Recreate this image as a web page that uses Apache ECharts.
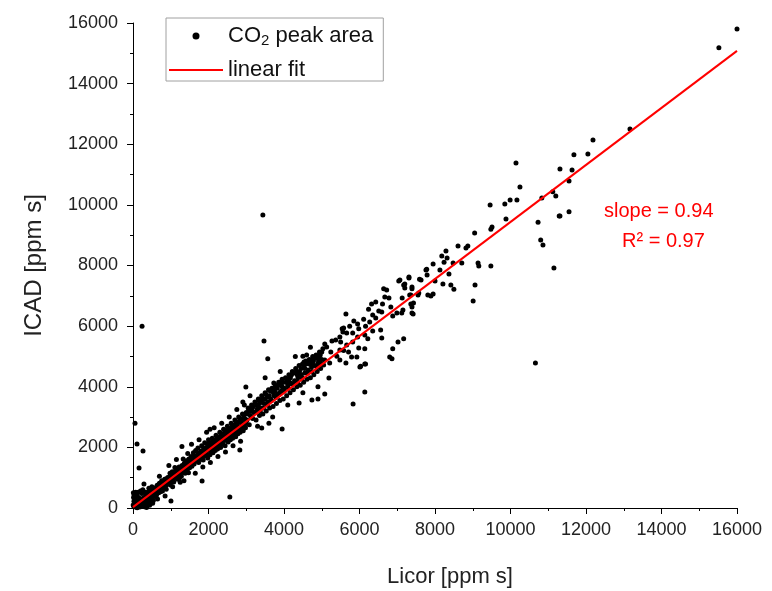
<!DOCTYPE html>
<html>
<head>
<meta charset="utf-8">
<script src="https://cdn.jsdelivr.net/npm/echarts@6/dist/echarts.min.js"></script>
<style>
html,body{margin:0;padding:0;background:#fff;}
#chart{width:772px;height:591px;}
</style>
</head>
<body>
<div id="chart"></div>
<script>
// ---- data (Licor [ppm s], ICAD [ppm s]) ----
const xTicks = [0, 2000, 4000, 6000, 8000, 10000, 12000, 14000, 16000];
const yTicks = [0, 2000, 4000, 6000, 8000, 10000, 12000, 14000, 16000];

const nearOrigin = [[20,60],[40,150],[60,30],[80,250],[100,120],[120,380],[30,420],[150,60],[170,220],[190,310],[210,90],[230,480],[250,200],[270,150],[290,350],[310,260],[330,120],[350,430],[370,300],[390,520],[410,210],[430,380],[450,290],[470,560],[490,400],[510,330],[530,620],[550,450],[570,510],[590,380],[50,300],[90,450],[140,520],[180,30],[220,280],[260,600],[300,40],[340,180],[380,100],[420,650],[460,150],[500,700],[540,250],[580,620],[10,500],[15,350],[25,220],[5,100],[200,560],[320,520],[110,10],[360,20],[440,90],[520,160],[70,520]];

const bandLow = [[600,560],[620,420],[640,750],[660,680],[680,500],[700,820],[720,610],[740,700],[760,900],[780,560],[800,780],[820,690],[840,950],[860,720],[880,620],[900,880],[920,1010],[940,800],[960,940],[980,1150],[1000,870],[1020,980],[1040,1200],[1060,1050],[1080,860],[1100,1120],[1120,990],[1140,1280],[1160,1060],[1180,950],[1200,1190],[1220,1350],[1240,1100],[1260,1230],[1280,1050],[1300,1400],[1320,1200],[1340,1300],[1360,1480],[1380,1150],[1400,1310],[1420,1560],[1440,1270],[1460,1390],[1480,1620],[1500,1330],[650,300],[850,400],[1050,700],[1250,850],[700,1050],[950,1400],[1150,1600],[1350,900],[1450,1800],[610,680],[730,540],[870,960],[990,760],[1110,1340],[1230,980],[1330,1620],[1470,1160]];

const bandLowExtra = [[520,480],[560,640],[610,530],[670,610],[690,720],[750,640],[790,880],[830,820],[890,790],[930,900],[970,1020],[1010,1080],[1030,900],[1070,1150],[1090,1000],[1130,1100],[1170,1230],[1190,1100],[1210,1250],[1270,1320],[1290,1180],[1310,1300],[1370,1390],[1390,1280],[1410,1430],[1430,1360],[1490,1480]];

const bandMid = [[1520,1500],[1540,1700],[1560,1380],[1580,1560],[1600,1820],[1620,1450],[1640,1600],[1660,1900],[1680,1550],[1700,1700],[1720,1980],[1740,1500],[1760,1680],[1780,1850],[1800,1620],[1820,2050],[1840,1760],[1860,1580],[1880,1900],[1900,2150],[1920,1720],[1940,1850],[1960,2000],[1980,1650],[2000,2250],[2020,1900],[2040,1760],[2060,2080],[2080,1950],[2100,2300],[2120,1820],[2140,2020],[2160,2180],[2180,1900],[2200,2400],[2220,2080],[2240,1950],[2260,2250],[2280,2120],[2300,2500],[2320,2000],[2340,2200],[2360,2380],[2380,2100],[2400,2600],[2420,2250],[2440,2050],[2460,2420],[2480,2300],[2500,2700],[2520,2180],[2540,2400],[2560,2560],[2580,2250],[2600,2800],[2620,2450],[2640,2300],[2660,2620],[2680,2480],[2700,2900],[2720,2350],[2740,2580],[2760,2750],[2780,2450],[2800,3000],[2820,2650],[2840,2500],[2860,2820],[2880,2700],[2900,3100],[2920,2550],[2940,2760],[2960,2950],[2980,2650],[3000,3150],[1550,2100],[1650,1150],[1750,2250],[1850,1350],[1950,2500],[2050,1500],[2150,2650],[2250,1700],[2350,2800],[2450,1850],[2550,3000],[2650,2050],[2750,3250],[2850,2200],[2950,3400],[1510,1380],[1590,1520],[1690,1640],[1790,1720],[1890,1760],[1990,1930],[2090,1990],[2190,2120],[2290,2170],[2390,2280],[2490,2410],[2590,2470],[2690,2560],[2790,2640],[2890,2780],[2990,2830]];

const bandMidExtra = [[1530,1600],[1570,1640],[1610,1540],[1630,1720],[1670,1700],[1710,1580],[1730,1800],[1770,1760],[1810,1880],[1830,1680],[1870,1990],[1910,1880],[1930,1780],[1970,2100],[2010,2000],[2030,2150],[2070,1880],[2110,2180],[2130,2250],[2170,2050],[2210,2230],[2230,2330],[2270,2030],[2310,2350],[2330,2450],[2370,2180],[2410,2430],[2430,2550],[2470,2230],[2510,2520],[2530,2620],[2570,2380],[2610,2630],[2630,2740],[2670,2400],[2710,2700],[2730,2820],[2770,2580],[2810,2850],[2830,2950],[2870,2620],[2910,2920],[2930,3050],[2970,2780]];

const bandHigh = [[3020,2900],[3050,3300],[3080,2750],[3110,3050],[3140,3400],[3170,2950],[3200,3150],[3230,3500],[3260,2900],[3290,3250],[3320,3600],[3350,3050],[3380,3300],[3410,3700],[3440,3100],[3470,3450],[3500,3800],[3530,3200],[3560,3400],[3590,3900],[3620,3300],[3650,3600],[3680,3950],[3710,3350],[3740,3700],[3770,4050],[3800,3450],[3830,3750],[3860,4150],[3890,3550],[3920,3850],[3950,4250],[3980,3600],[4010,3950],[4040,4300],[4070,3700],[4100,4050],[4130,4400],[4160,3800],[4190,4100],[4220,4500],[4250,3900],[4280,4200],[4310,4600],[4340,4000],[4370,4300],[4400,4700],[4430,4050],[4460,4400],[4490,4750],[4520,4150],[4550,4450],[4580,4850],[4610,4250],[4640,4550],[4670,4900],[4700,4300],[4730,4650],[4760,5000],[4790,4400],[4820,4700],[4850,5050],[4880,4500],[4910,4800],[4940,5150],[4970,4600],[5000,4900],[3100,3700],[3300,2700],[3500,4300],[3700,3000],[3900,4500],[4100,3400],[4300,5000],[4500,3800],[4700,5300],[4900,4000],[3150,3200],[3350,3450],[3550,3650],[3750,3850],[3950,4000],[4150,4150],[4350,4400],[4550,4600],[4750,4750],[4950,4850]];

const bandHighExtra = [[3030,3100],[3070,3200],[3130,3000],[3160,3300],[3190,3350],[3240,3150],[3270,3400],[3310,3350],[3340,3550],[3370,3200],[3400,3500],[3430,3600],[3460,3300],[3490,3600],[3520,3750],[3570,3500],[3610,3700],[3640,3850],[3670,3550],[3720,3800],[3760,3950],[3790,3650],[3820,3950],[3850,4050],[3880,3800],[3930,4100],[3970,4150],[4000,3850],[4050,4150],[4080,4250],[4120,3950],[4170,4300],[4200,4400],[4240,4100],[4290,4450],[4330,4500],[4360,4150],[4410,4500],[4450,4600],[4480,4300],[4530,4650],[4570,4750],[4620,4450],[4660,4750],[4690,4850],[4740,4500],[4780,4850],[4830,4950],[4870,4650],[4920,5000],[4960,5050],[4990,4750]];

const scatterMid = [[4600,5050],[4500,5010],[4770,4950],[4900,4920],[4530,4820],[4710,4780],[4920,4750],[5080,4880],[5210,4780],[5050,4720],[5480,4880],[5790,4980],[5640,4780],[5080,5410],[5130,5310],[5030,5250],[5000,5150],[5240,5150],[5400,5010],[5480,5210],[5580,5200],[5710,5150],[5980,5280],[5930,4980],[6140,5250],[6160,4750],[6030,4680],[5270,5510],[5370,5540],[5480,5640],[5500,5480],[5660,5380],[5820,5480],[5950,5640],[6140,5710],[6350,5840],[6560,5870],[6590,5610],[6220,5580],[5560,5810],[5660,5770],[5820,5770],[5580,5940],[5740,6000],[5980,5910],[5640,6400],[5850,6170],[5950,6070],[6160,6000],[6270,6140],[6110,6230],[6430,6270],[6350,6370],[6240,6560],[6320,6730],[6510,6500],[6590,6470],[6880,6330],[6990,6430],[7120,6430],[6430,6800],[6610,6730],[6830,6630],[6640,7230],[6720,7190],[6670,6960],[6780,6930],[7040,7490],[7170,7360],[7200,7260],[7310,7620],[7390,7230],[7570,7090],[7330,7030],[7430,6760],[7390,6430],[7590,7550],[7780,7880],[6880,5250],[7020,5480],[7170,5580],[6800,4980],[6860,4920],[6010,4650],[6140,4750],[5540,5910],[5190,4290],[5080,3760],[4900,3600],[4740,3560],[4400,3460],[5830,3430],[6140,3830]];

const scatterHigh = [[10145,11380],[10250,10590],[10830,10230],[11120,10430],[11200,10290],[10170,10160],[9990,10160],[9850,10030],[9460,10000],[11290,9630],[9880,9530],[10730,9430],[9510,9270],[9480,9200],[10860,8680],[11150,7920],[9050,9070],[8610,8640],[8870,8640],[8820,8580],[8290,8480],[8180,8310],[8320,8250],[8240,8110],[8480,8080],[8710,8080],[9140,8080],[9160,7980],[9480,7980],[7950,8050],[7760,7850],[7790,7690],[8130,7850],[8370,7720],[8000,7490],[7630,7520],[8210,7390],[8420,7360],[8500,7220],[9060,7360],[9010,6830],[7200,7390],[7310,7590],[7390,7290],[7070,7520],[7360,7030],[7550,7030],[7810,7030],[7950,7060],[7890,6990],[7130,6930],[7360,6730],[7150,6530],[7420,6400],[7390,6630],[10800,8840],[10660,4780]];

const scatterTop = [[16000,15800],[15520,15180],[13165,12500],[12185,12140],[12050,11680],[11680,11650],[11630,11150],[11310,11180],[11550,10790],[11550,9770],[11310,9630]];

const outliers = [[3440,9670],[240,6000],[53,2800],[106,2110],[265,1880],[160,1320],[290,790],[1296,2030],[2040,2600],[2565,360],[2990,3990],[3730,4120],[3950,2610],[2830,1910],[2910,3500],[1830,890],[1005,230],[3470,5510],[3570,4920],[3410,2640],[3600,2800]];

const fitX = [0, 16000];
const fitY = [30, 15080];
const slopeText = 'slope = 0.94';
const r2Text = 'R\u00B2 = 0.97';

// ---- build ----
const allPoints = [].concat(nearOrigin, bandLow, bandLowExtra, bandMid, bandMidExtra, bandHigh, bandHighExtra, scatterMid, scatterHigh, scatterTop, outliers);
const fitLine = fitX.map((x, i) => [x, fitY[i]]);

const FONT = 'Liberation Sans, Arial, sans-serif';
const chart = echarts.init(document.getElementById('chart'), null, {renderer: 'canvas'});

const axisCommon = {
  type: 'value',
  min: 0, max: 16000, interval: 2000,
  axisLine: {show: true, onZero: false, lineStyle: {color: '#000', width: 1}},
  axisTick: {show: true, inside: false, length: 6, lineStyle: {color: '#000'}},
  minorTick: {show: true, splitNumber: 2, length: 3, lineStyle: {color: '#000'}},
  splitLine: {show: false},
  nameLocation: 'middle'
};

chart.setOption({
  backgroundColor: '#fff',
  animation: false,
  grid: {left: 133, right: 35, top: 23, bottom: 83, containLabel: false, outerBoundsMode: 'none'},
  xAxis: Object.assign({}, axisCommon, {
    name: 'Licor [ppm s]', nameGap: 58,
    nameTextStyle: {fontFamily: FONT, fontSize: 22, color: '#222', padding: [0, 0, 0, 30]},
    axisLabel: {fontFamily: FONT, fontSize: 18, color: '#222', margin: 13,
      formatter: v => xTicks.indexOf(v) >= 0 ? String(v) : ''}
  }),
  yAxis: Object.assign({}, axisCommon, {
    name: 'ICAD [ppm s]', nameGap: 87,
    nameTextStyle: {fontFamily: FONT, fontSize: 24, color: '#222'},
    axisLabel: {fontFamily: FONT, fontSize: 18, color: '#222', margin: 15,
      formatter: v => yTicks.indexOf(v) >= 0 ? String(v) : ''}
  }),
  legend: {
    orient: 'vertical', left: 166, top: 18,
    borderColor: '#a0a0a0', borderWidth: 1,
    padding: [7, 10, 0, 2], itemGap: 11,
    itemWidth: 54, itemHeight: 7,
    textStyle: {fontFamily: FONT, fontSize: 22, color: '#111',
      rich: {
        a: {fontFamily: FONT, fontSize: 22, color: '#111', lineHeight: 24},
        s: {fontFamily: FONT, fontSize: 15, color: '#111', verticalAlign: 'bottom', lineHeight: 12}
      }},
    formatter: name => name === 'CO2 peak area' ? '{a|CO}{s|2}{a| peak area}' : '{a|' + name + '}',
    data: [
      {name: 'CO2 peak area', icon: 'circle', itemStyle: {color: '#000'}},
      {name: 'linear fit', itemStyle: {color: 'rgba(0,0,0,0)', borderWidth: 0, opacity: 0},
        lineStyle: {color: '#ff0000', width: 2, opacity: 1}}
    ]
  },
  series: [
    {
      name: 'CO2 peak area', type: 'scatter',
      symbol: 'circle', symbolSize: 5,
      itemStyle: {color: '#000', opacity: 1},
      data: allPoints, z: 2
    },
    {
      name: 'linear fit', type: 'line',
      symbol: 'none', showSymbol: false, lineStyle: {color: '#ff0000', width: 2},
      itemStyle: {color: '#ff0000'},
      data: fitLine, z: 3
    }
  ],
  graphic: [
    {type: 'text', left: 604, top: 201, style: {text: slopeText, font: '20px ' + FONT, fill: '#ff0000'}},
    {type: 'text', left: 622, top: 231, style: {text: r2Text, font: '20px ' + FONT, fill: '#ff0000'}}
  ]
});
</script>
</body>
</html>
